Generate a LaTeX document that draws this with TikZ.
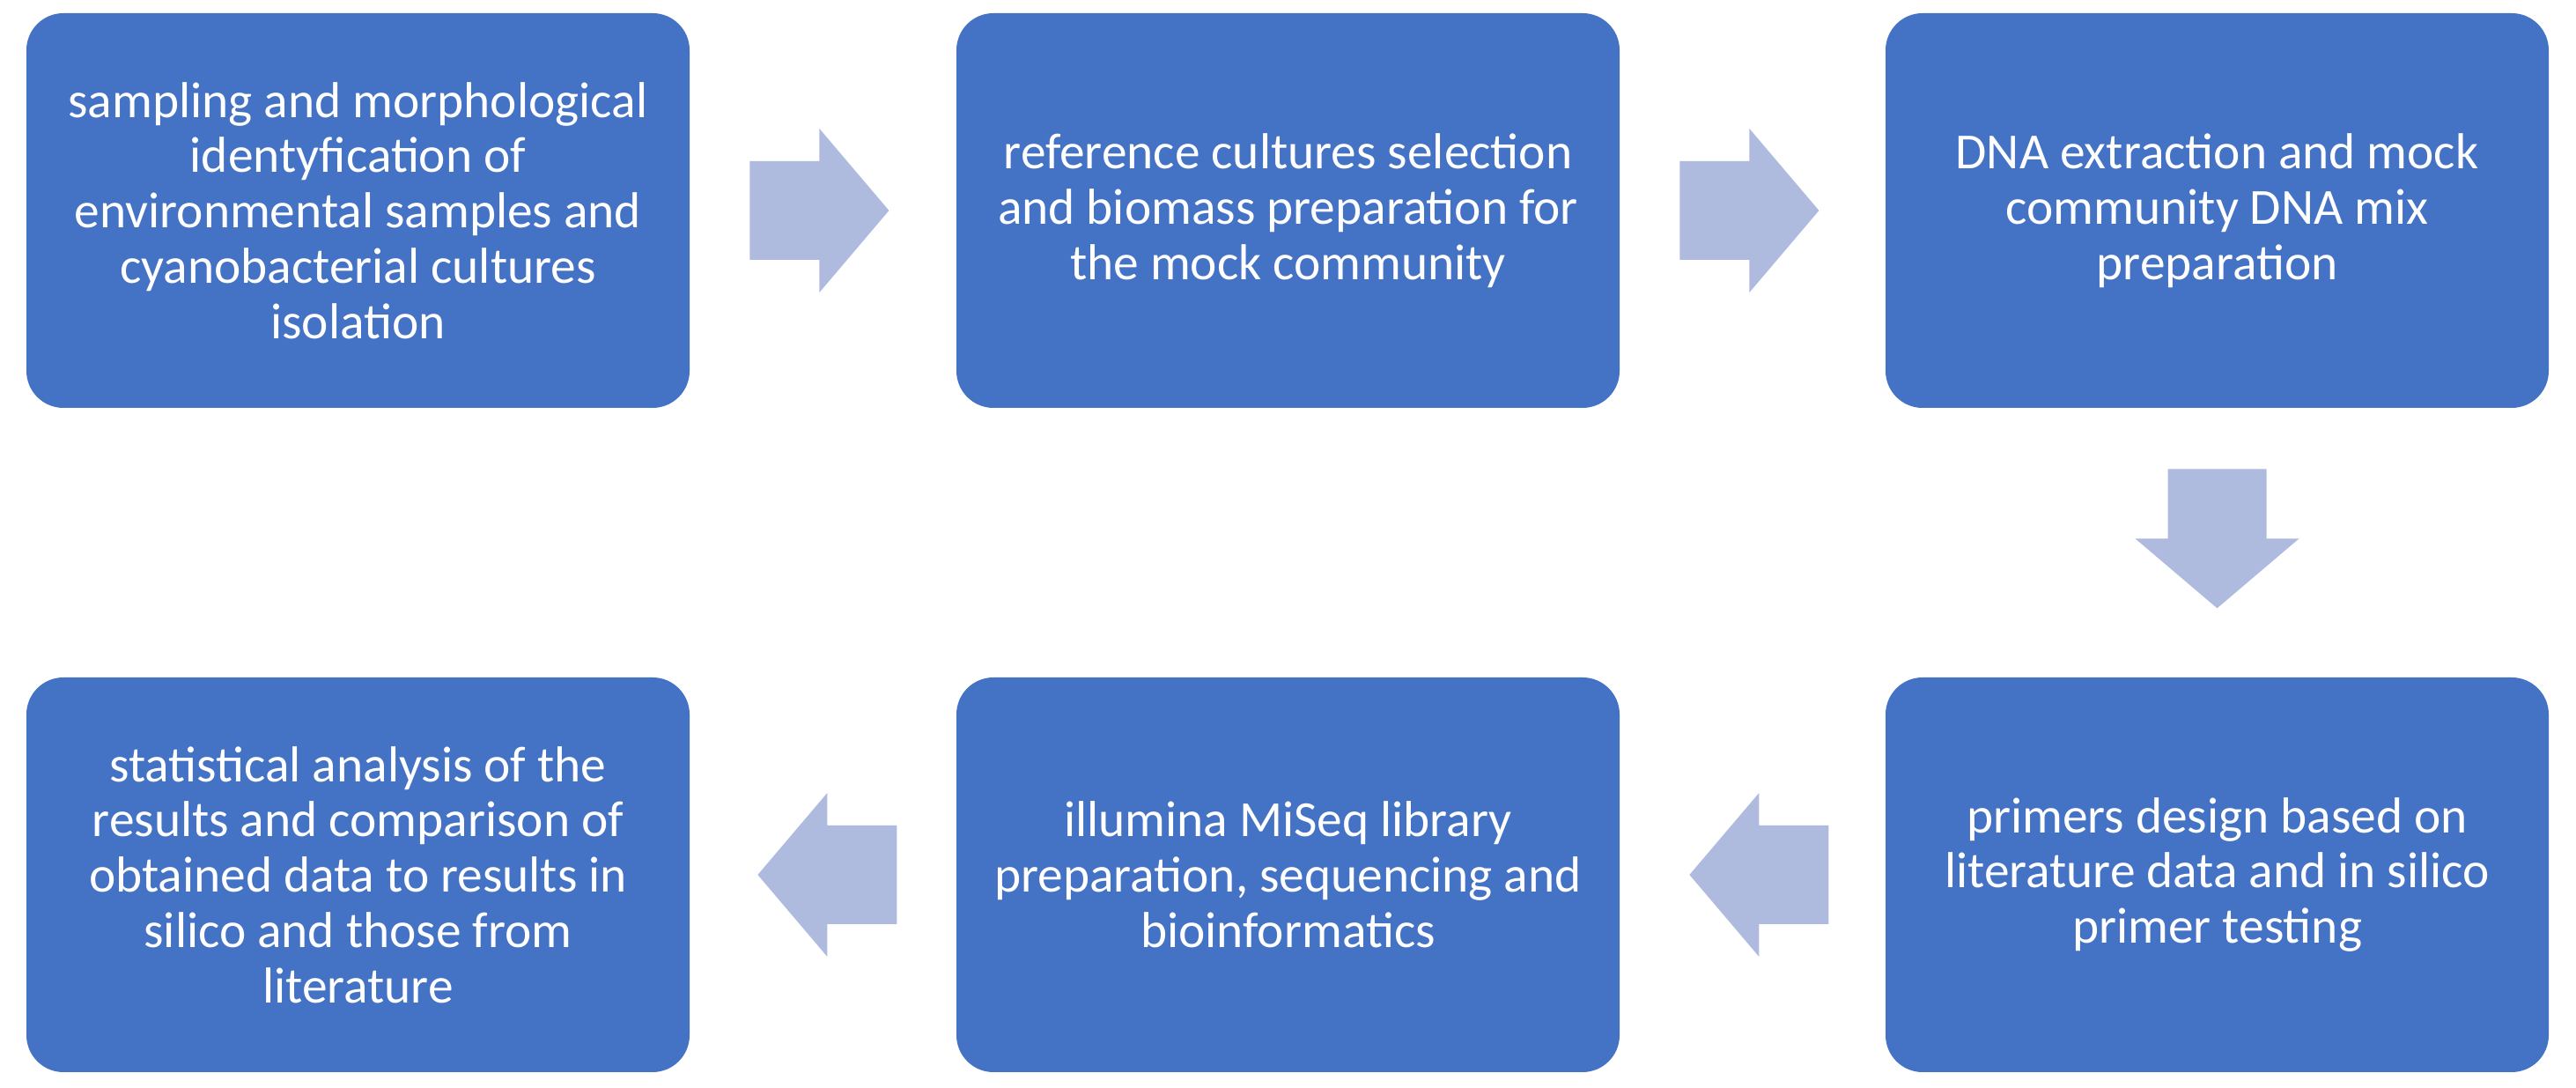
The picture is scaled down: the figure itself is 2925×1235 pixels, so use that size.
\documentclass[tikz,border=0pt]{standalone}
\usepackage{fontspec}
\setmainfont{Carlito}
\usetikzlibrary{calc}
\definecolor{boxblue}{HTML}{4472C4}
\definecolor{arrowfill}{HTML}{AFBBDE}
\tikzset{
  stepbox/.style={rectangle, rounded corners=21pt, fill=boxblue, draw=none,
    minimum width=376.5pt, minimum height=224pt, inner sep=0pt,
    text=white, align=center, font=\fontsize{28.7}{31.4}\selectfont},
  blockarrow/.pic={\fill[arrowfill] (0,-56) -- (79,-56) -- (79,-93) -- (158,0) -- (79,93) -- (79,56) -- (0,56) -- cycle;}
}
\begin{document}
\begin{tikzpicture}[x=0.5pt,y=0.5pt]
\useasboundingbox (0,0) rectangle (2925,1235);
\node[stepbox] (b1) at (406.5,996) {sampling and morphological\\identyfication of\\environmental samples and\\cyanobacterial cultures\\isolation};
\node[stepbox] (b2) at (1462.5,996) {reference cultures selection\\and biomass preparation for\\the mock community};
\node[stepbox] (b3) at (2517.5,996) {DNA extraction and mock\\community DNA mix\\preparation};
\node[stepbox] (b4) at (2517.5,242) {primers design based on\\literature data and in silico\\primer testing};
\node[stepbox] (b5) at (1462.5,242) {illumina MiSeq library\\preparation, sequencing and\\bioinformatics};
\node[stepbox] (b6) at (406.5,242) {statistical analysis of the\\results and comparison of\\obtained data to results in\\silico and those from\\literature};
\coordinate (a1) at ($(b1.east)+(68,0)$);
\coordinate (a2) at ($(b2.east)+(68,0)$);
\coordinate (a3) at ($(b3.south)+(0,-69)$);
\coordinate (a4) at ($(b5.east)+(237,0)$);
\coordinate (a5) at ($(b6.east)+(235,0)$);
\pic at (a1) {blockarrow};
\pic at (a2) {blockarrow};
\pic[rotate=-90] at (a3) {blockarrow};
\pic[rotate=180] at (a4) {blockarrow};
\pic[rotate=180] at (a5) {blockarrow};
\end{tikzpicture}
\end{document}
